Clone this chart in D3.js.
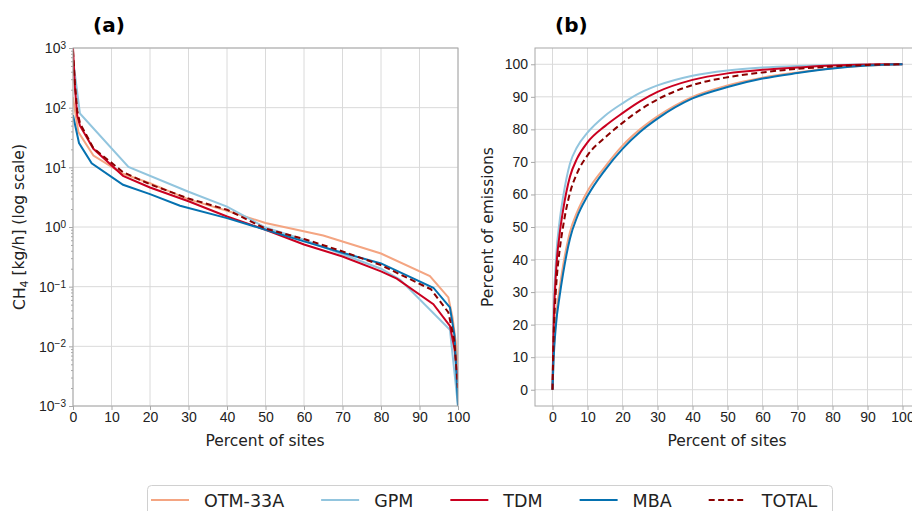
<!DOCTYPE html>
<html>
<head>
<meta charset="utf-8">
<script src="https://cdn.jsdelivr.net/npm/d3@7"></script>
<style>
  body { margin: 0; background: #fff; }
  svg { font-family: "DejaVu Sans", sans-serif; display: block; }
</style>
</head>
<body>
<div class="canvas"></div>
<script>
const seriesNames = ['OTM-33A', 'GPM', 'TDM', 'MBA', 'TOTAL'];
const seriesColors = ['#f4a582', '#92c5de', '#ca0020', '#0571b0', '#8b0000'];

// (a) emission rate by percent of sites, sorted
const otmSites = [0, 0.3, 1.4, 5.3, 13, 20, 30, 40, 50, 65, 80, 92.7, 97.5, 98.6, 99.4, 100];
const otmRate  = [150, 110, 39, 15.8, 7.8, 5.4, 2.9, 1.87, 1.17, 0.72, 0.36, 0.15, 0.066, 0.03, 0.012, 0.005];
const gpmSites = [0, 1.8, 14.4, 30, 40, 50, 60, 70, 80, 85, 97.9, 100];
const gpmRate  = [650, 80, 10.2, 3.9, 2.2, 0.98, 0.61, 0.35, 0.2, 0.13, 0.019, 0.001];
const tdmSites = [0, 0.5, 1.1, 1.8, 5.3, 13, 20, 30, 40, 50, 60, 70, 80, 84.1, 93.6, 97.9, 99.1, 100];
const tdmRate  = [1000, 220, 74, 50, 20.4, 7.2, 4.6, 2.7, 1.5, 0.9, 0.51, 0.32, 0.18, 0.136, 0.051, 0.022, 0.009, 0.0025];
const mbaSites = [0, 1.56, 4.85, 13, 20, 27.8, 40, 50, 60, 70, 80, 93.6, 97.9, 99.1, 100];
const mbaRate  = [75, 25.5, 11.7, 5.1, 3.55, 2.27, 1.41, 0.9, 0.575, 0.37, 0.245, 0.096, 0.045, 0.015, 0.001];
const totSites = [0, 0.5, 1.1, 1.8, 5.3, 13, 20, 30, 40, 50, 60, 70, 80, 93, 97.5, 99, 100];
const totRate  = [900, 250, 90, 55, 21, 8.3, 5.2, 3.0, 1.95, 0.94, 0.63, 0.39, 0.23, 0.09, 0.037, 0.013, 0.002];

// (b) cumulative percent of emissions
const cumSites = [0, 0.3, 1, 2, 3, 5, 7, 10, 15, 20, 25, 30, 40, 50, 60, 70, 80, 90, 100];
const otmCum   = [0, 10, 22, 31, 38, 48.5, 54.5, 61, 68.5, 75, 80, 84, 90, 93.5, 95.9, 97.5, 98.8, 99.6, 100];
const gpmCum   = [0, 22, 40, 51.5, 59, 69.5, 74.5, 79, 84.2, 88, 91.2, 93.5, 96.5, 98.1, 99, 99.5, 99.8, 99.95, 100];
const tdmCum   = [0, 18, 36, 47.5, 55, 65.5, 71, 76, 81, 85, 88.6, 91.5, 95.2, 97.2, 98.3, 99, 99.6, 99.9, 100];
const mbaCum   = [0, 9, 20, 28.5, 35.5, 46.5, 53, 59.5, 67.5, 74, 79.2, 83.3, 89.5, 93, 95.6, 97.3, 98.7, 99.6, 100];
const totCum   = [0, 15, 31, 42.5, 50, 60.5, 66.5, 72, 77.5, 82, 86, 89.2, 93.6, 96, 97.5, 98.6, 99.3, 99.8, 100];

const xTicks = d3.range(0, 101, 10);
const logTicks = [1e-3, 1e-2, 1e-1, 1e0, 1e1, 1e2, 1e3];

const rateSeries = [
    [otmSites, otmRate], [gpmSites, gpmRate], [tdmSites, tdmRate], [mbaSites, mbaRate], [totSites, totRate]
].map(([xs, ys], i) => ({ name: seriesNames[i], pts: xs.map((x, j) => [x, ys[j]]) }));
const cumSeries = [otmCum, gpmCum, tdmCum, mbaCum, totCum]
    .map((ys, i) => ({ name: seriesNames[i], pts: cumSites.map((x, j) => [x, ys[j]]) }));

const svg = d3.select('.canvas')
    .append('svg')
    .attr('width', 912)
    .attr('height', 511);

const gridCol = '#dadada';
const spineCol = '#a8a8a8';

const styleAxis = (g) => {
    g.select('.domain').remove();
    g.selectAll('line').attr('stroke', spineCol);
    g.selectAll('text').attr('fill', '#222').style('font-size', '14px');
};

const color = d3.scaleOrdinal(seriesNames, seriesColors);
const dashOf = name => name === 'TOTAL' ? '6,3.5' : null;

// ---------- panel (a) ----------
const ax = d3.scaleLinear().domain([0, 100]).range([73, 458]);
const ay = d3.scaleLog().domain([1e-3, 1e3]).range([406, 48]);

const pa = svg.append('g');
pa.append('clipPath').attr('id', 'clipA')
    .append('rect').attr('x', 73).attr('y', 48).attr('width', 385).attr('height', 358);

pa.append('g').selectAll('line').data(xTicks).join('line')
    .attr('x1', d => ax(d)).attr('x2', d => ax(d)).attr('y1', 48).attr('y2', 406)
    .attr('stroke', gridCol);
pa.append('g').selectAll('line').data(logTicks).join('line')
    .attr('x1', 73).attr('x2', 458).attr('y1', d => ay(d)).attr('y2', d => ay(d))
    .attr('stroke', gridCol);

const minorLog = [];
for (let e = -3; e < 3; e++) for (let k = 2; k <= 9; k++) minorLog.push(k * Math.pow(10, e));

pa.append('g').attr('transform', 'translate(73,0)')
    .call(d3.axisLeft(ay).tickValues(minorLog).tickSize(2).tickFormat(''))
    .call(styleAxis);
const ayAxis = pa.append('g').attr('transform', 'translate(73,0)')
    .call(d3.axisLeft(ay).tickValues(logTicks).tickSize(4).tickFormat(''))
    .call(styleAxis);
ayAxis.selectAll('.tick').append('text')
    .attr('x', -7).attr('dy', '0.35em').attr('text-anchor', 'end')
    .attr('fill', '#222').style('font-size', '14px')
    .each(function(d) {
        const t = d3.select(this);
        t.append('tspan').text('10');
        t.append('tspan').attr('dy', '-0.45em').style('font-size', '10px')
            .text(String(Math.round(Math.log10(d))).replace('-', '\u2212'));
    });

pa.append('g').attr('transform', 'translate(0,406)')
    .call(d3.axisBottom(ax).tickValues(xTicks).tickSize(4).tickPadding(2))
    .call(styleAxis);

const lineA = d3.line().x(d => ax(d[0])).y(d => ay(d[1]));
pa.append('g').attr('clip-path', 'url(#clipA)')
    .selectAll('path').data(rateSeries).join('path')
    .attr('d', d => lineA(d.pts))
    .attr('fill', 'none')
    .attr('stroke', d => color(d.name))
    .attr('stroke-width', 2)
    .attr('stroke-dasharray', d => dashOf(d.name));

pa.append('rect').attr('x', 73).attr('y', 48).attr('width', 385).attr('height', 358)
    .attr('fill', 'none').attr('stroke', spineCol);

pa.append('text').attr('x', 93).attr('y', 32)
    .style('font-size', '20px').style('font-weight', 'bold').text('(a)');
pa.append('text').attr('x', 265).attr('y', 446).attr('text-anchor', 'middle')
    .style('font-size', '15.5px').attr('fill', '#222').text('Percent of sites');
const ylab = pa.append('text').attr('transform', 'translate(25,227) rotate(-90)')
    .attr('text-anchor', 'middle').style('font-size', '15.5px').attr('fill', '#222');
ylab.append('tspan').text('CH');
ylab.append('tspan').attr('dy', '0.3em').style('font-size', '11px').text('4');
ylab.append('tspan').attr('dy', '-0.3em').text(' [kg/h] (log scale)');

// ---------- panel (b) ----------
const bx = d3.scaleLinear().domain([-5, 105]).range([535, 920]);
const by = d3.scaleLinear().domain([-5, 105]).range([406, 48]);

const pb = svg.append('g');
pb.append('g').selectAll('line').data(xTicks).join('line')
    .attr('x1', d => bx(d)).attr('x2', d => bx(d)).attr('y1', 48).attr('y2', 406)
    .attr('stroke', gridCol);
pb.append('g').selectAll('line').data(xTicks).join('line')
    .attr('x1', 535).attr('x2', 920).attr('y1', d => by(d)).attr('y2', d => by(d))
    .attr('stroke', gridCol);

pb.append('g').attr('transform', 'translate(535,0)')
    .call(d3.axisLeft(by).tickValues(xTicks).tickSize(4).tickPadding(3))
    .call(styleAxis);
pb.append('g').attr('transform', 'translate(0,406)')
    .call(d3.axisBottom(bx).tickValues(xTicks).tickSize(4).tickPadding(2))
    .call(styleAxis);

const lineB = d3.line().x(d => bx(d[0])).y(d => by(d[1])).curve(d3.curveMonotoneX);
pb.append('g')
    .selectAll('path').data(cumSeries).join('path')
    .attr('d', d => lineB(d.pts))
    .attr('fill', 'none')
    .attr('stroke', d => color(d.name))
    .attr('stroke-width', 2)
    .attr('stroke-dasharray', d => dashOf(d.name));

pb.append('rect').attr('x', 535).attr('y', 48).attr('width', 385).attr('height', 358)
    .attr('fill', 'none').attr('stroke', spineCol);

pb.append('text').attr('x', 555).attr('y', 32)
    .style('font-size', '20px').style('font-weight', 'bold').text('(b)');
pb.append('text').attr('x', 727).attr('y', 446).attr('text-anchor', 'middle')
    .style('font-size', '15.5px').attr('fill', '#222').text('Percent of sites');
pb.append('text').attr('transform', 'translate(493,227) rotate(-90)')
    .attr('text-anchor', 'middle').style('font-size', '15.5px').attr('fill', '#222')
    .text('Percent of emissions');

// ---------- legend ----------
const legend = svg.append('g');
legend.append('rect').attr('x', 147.5).attr('y', 485.5).attr('width', 685).attr('height', 40)
    .attr('rx', 4).attr('fill', '#fff').attr('stroke', '#d0d0d0');

let cursor = 151;
seriesNames.forEach((name) => {
    const g = legend.append('g').attr('transform', `translate(${cursor},0)`);
    g.append('line').attr('x1', 0).attr('x2', 38).attr('y1', 500).attr('y2', 500)
        .attr('stroke', color(name)).attr('stroke-width', 2)
        .attr('stroke-dasharray', dashOf(name));
    const t = g.append('text').attr('x', 53).attr('y', 506.5)
        .style('font-size', '17.5px').attr('fill', '#222').text(name);
    cursor += 53 + t.node().getComputedTextLength() + 37;
});
</script>
</body>
</html>
